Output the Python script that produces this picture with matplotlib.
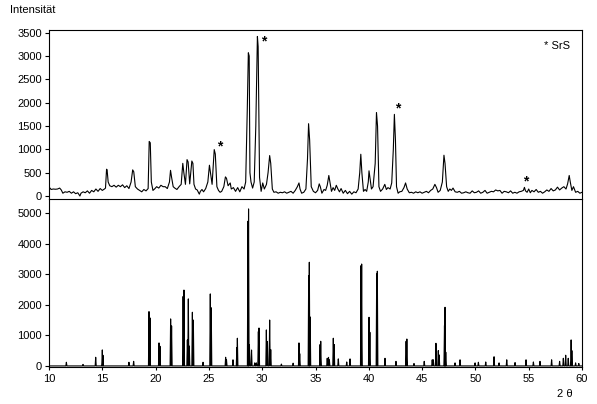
import matplotlib
matplotlib.use("Agg")
import matplotlib.pyplot as plt

plt.rcParams['font.family'] = ['Liberation Sans', 'DejaVu Sans']
plt.rcParams['font.size'] = 8

# gemessenes Diffraktogramm (oben): 2theta / Intensitaet
theta_mess = [
    10.0, 10.1, 10.2, 10.4, 10.6, 10.8, 11.0, 11.15, 11.3, 11.5, 11.7, 11.9, 12.1, 12.3, 12.5, 12.7,
    12.9, 13.0, 13.2, 13.4, 13.6, 13.8, 14.0, 14.2, 14.4, 14.6, 14.8, 15.0, 15.2, 15.3, 15.4, 15.45,
    15.55, 15.7, 15.9, 16.1, 16.3, 16.5, 16.7, 16.9, 17.1, 17.3, 17.5, 17.7, 17.85, 17.95, 18.1, 18.3,
    18.5, 18.7, 18.9, 19.1, 19.3, 19.4, 19.5, 19.6, 19.75, 19.9, 20.1, 20.3, 20.5, 20.7, 20.9, 21.1,
    21.3, 21.4, 21.5, 21.65, 21.8, 22.0, 22.2, 22.4, 22.55, 22.65, 22.8, 22.95, 23.05, 23.2, 23.4, 23.5,
    23.6, 23.75, 23.9, 24.1, 24.2, 24.35, 24.5, 24.7, 24.9, 25.05, 25.15, 25.3, 25.5, 25.6, 25.75, 25.9,
    26.05, 26.2, 26.4, 26.55, 26.65, 26.8, 27.0, 27.1, 27.3, 27.5, 27.7, 27.9, 28.1, 28.3, 28.45, 28.6,
    28.7, 28.78, 28.85, 28.95, 29.1, 29.25, 29.4, 29.55, 29.62, 29.75, 29.9, 30.05, 30.2, 30.4, 30.55, 30.7,
    30.8, 30.95, 31.1, 31.3, 31.5, 31.7, 31.9, 32.1, 32.3, 32.5, 32.7, 32.9, 33.1, 33.3, 33.45, 33.55,
    33.7, 33.9, 34.1, 34.25, 34.35, 34.45, 34.6, 34.8, 35.0, 35.2, 35.35, 35.45, 35.6, 35.8, 35.95, 36.1,
    36.25, 36.35, 36.5, 36.65, 36.8, 36.95, 37.1, 37.25, 37.4, 37.6, 37.8, 38.0, 38.2, 38.4, 38.6, 38.8,
    39.0, 39.15, 39.25, 39.35, 39.5, 39.65, 39.8, 39.95, 40.02, 40.1, 40.25, 40.4, 40.6, 40.72, 40.82, 40.95,
    41.1, 41.3, 41.5, 41.65, 41.8, 42.0, 42.15, 42.3, 42.4, 42.5, 42.6, 42.75, 42.9, 43.1, 43.3, 43.45,
    43.6, 43.8, 44.0, 44.2, 44.4, 44.6, 44.8, 45.0, 45.2, 45.4, 45.6, 45.8, 46.0, 46.2, 46.35, 46.5,
    46.7, 46.9, 47.05, 47.15, 47.3, 47.45, 47.6, 47.75, 47.9, 48.1, 48.3, 48.5, 48.7, 48.9, 49.1, 49.3,
    49.5, 49.7, 49.9, 50.1, 50.3, 50.5, 50.7, 50.9, 51.1, 51.3, 51.5, 51.7, 51.9, 52.1, 52.3, 52.5,
    52.7, 52.9, 53.1, 53.3, 53.5, 53.7, 53.9, 54.1, 54.3, 54.5, 54.6, 54.7, 54.85, 55.0, 55.15, 55.3,
    55.5, 55.7, 55.9, 56.1, 56.3, 56.5, 56.7, 56.9, 57.1, 57.3, 57.5, 57.7, 57.9, 58.1, 58.3, 58.5,
    58.65, 58.8, 58.9, 59.05, 59.2, 59.4, 59.6, 59.8, 60.0,
]
int_mess = [
    120, 170, 140, 150, 145, 150, 170, 130, 60, 90, 80, 100, 60, 90, 50, 70,
    0, 60, 90, 70, 110, 60, 120, 90, 150, 100, 160, 120, 150, 170, 575, 560,
    300, 220, 200, 230, 190, 230, 200, 240, 180, 220, 160, 300, 560, 520, 200, 150,
    120, 90, 140, 110, 160, 1170, 1140, 300, 120, 150, 200, 170, 230, 200, 200, 160,
    300, 550, 400, 200, 170, 140, 200, 250, 700, 500, 250, 780, 730, 260, 750, 700,
    250, 150, 130, 40, 100, 140, 90, 160, 300, 660, 500, 250, 995, 900, 200, 120,
    80, 100, 200, 410, 380, 220, 280, 150, 180, 100, 180, 90, 200, 150, 300, 1850,
    3070, 3000, 500, 300, 170, 300, 1500, 3420, 3200, 400, 100, 280, 150, 250, 500, 867,
    700, 150, 80, 90, 60, 80, 70, 90, 60, 80, 100, 60, 120, 200, 280, 150,
    60, 80, 150, 800, 1550, 1200, 200, 100, 70, 120, 260, 200, 60, 140, 120, 230,
    440, 300, 100, 180, 120, 230, 150, 90, 160, 60, 120, 50, 100, 40, 90, 70,
    150, 500, 895, 500, 100, 140, 100, 300, 540, 400, 150, 200, 700, 1790, 1500, 200,
    100, 150, 250, 140, 180, 150, 280, 1000, 1750, 1200, 200, 60, 90, 100, 180, 280,
    150, 70, 80, 60, 90, 70, 90, 60, 80, 100, 70, 120, 150, 250, 180, 80,
    120, 300, 874, 700, 200, 100, 150, 120, 170, 90, 80, 100, 60, 70, 90, 70,
    60, 110, 70, 80, 110, 60, 80, 120, 60, 80, 100, 90, 130, 110, 120, 60,
    100, 90, 70, 110, 60, 80, 60, 90, 100, 120, 185, 110, 80, 150, 70, 120,
    90, 140, 80, 100, 60, 90, 130, 100, 160, 110, 130, 190, 130, 170, 200, 150,
    260, 440, 300, 120, 200, 80, 100, 60, 80,
]

# berechnetes Referenzdiagramm (unten): Reflexlagen und Intensitaeten
theta_ref = [
    11.63, 13.19, 14.38, 15.0, 15.06, 17.5, 17.94, 19.38, 19.47, 20.32, 20.41, 21.41, 21.5,
    22.58, 22.66, 22.98, 23.07, 23.16, 23.45, 23.54, 24.45, 25.13, 25.22, 26.57, 26.65, 27.26,
    27.62, 27.67, 28.66, 28.72, 28.8, 29.0, 29.3, 29.45, 29.64, 29.7, 30.39, 30.49, 30.7, 30.8,
    31.8, 32.9, 33.45, 33.52, 34.36, 34.42, 34.5, 35.43, 35.49, 36.1, 36.22, 36.3, 36.67, 36.75,
    37.14, 37.93, 38.24, 39.27, 39.33, 40.02, 40.1, 40.74, 40.8, 41.52, 42.55, 43.5, 43.57,
    44.24, 45.2, 45.95, 46.05, 46.3, 46.52, 46.6, 47.1, 47.15, 47.22, 48.09, 48.56, 49.97,
    50.28, 50.97, 51.75, 52.22, 52.94, 53.72, 54.75, 55.44, 56.06, 57.15, 57.9, 58.25, 58.47,
    58.71, 58.98, 59.05, 59.4, 59.7,
]
int_ref = [
    120, 50, 283, 523, 350, 120, 150, 1775, 1570, 752, 643, 1536, 1307,
    2270, 2480, 850, 2190, 650, 1754, 1500, 120, 2353, 1900, 283, 200, 200,
    600, 905, 4728, 5130, 700, 520, 100, 100, 1122, 1240, 1176, 800, 1500, 533,
    60, 90, 752, 400, 2952, 3388, 1600, 700, 806, 250, 280, 200, 905, 700,
    230, 130, 230, 3278, 3330, 1590, 1100, 3007, 3094, 250, 150, 806, 880,
    80, 150, 200, 200, 740, 500, 360, 1320, 1917, 450, 100, 200, 100,
    120, 130, 300, 100, 200, 110, 200, 130, 150, 200, 150, 250, 350,
    250, 850, 500, 100, 80,
]

# SrS-Reflexe (Sternchen)
srs_theta = [26.0, 30.17, 42.7, 54.68]
srs_int = [1070, 3315, 1886, 306]

fig = plt.figure(figsize=(5.97, 4.04), dpi=100)
ax2 = fig.add_axes([49 / 597, 1 - 367 / 404, 533 / 597, 168 / 404])
ax1 = fig.add_axes([49 / 597, 1 - 199 / 404, 533 / 597, 169 / 404])
ax2.patch.set_visible(False)
ax1.patch.set_visible(False)

ax1.plot(theta_mess, int_mess, color='black', lw=0.8)
ax1.set_xlim(10, 60)
ax1.set_ylim(-64, 3558)
ax1.set_yticks(range(0, 3501, 500))
ax1.tick_params(axis='x', bottom=False, labelbottom=False)
ax1.tick_params(axis='y', length=3, width=0.8, pad=2)
for s in ax1.spines.values():
    s.set_linewidth(0.8)

for t, i in zip(srs_theta, srs_int):
    ax1.text(t, i, '*', ha='center', va='center', fontsize=10, fontweight='bold')
ax1.text(0.977, 0.905, '* SrS', transform=ax1.transAxes, ha='right', va='center')

# Strichdiagramm als schmale Dreiecke
w = 0.05
xs, ys = [10.0], [0]
for t, i in zip(theta_ref, int_ref):
    xs += [t - w, t, t + w]
    ys += [0, i, 0]
xs.append(60.0)
ys.append(0)
ax2.plot(xs, ys, color='black', lw=0.8)
ax2.set_xlim(10, 60)
ax2.set_ylim(-35, 5455)
ax2.set_yticks(range(0, 5001, 1000))
ax2.set_xticks(range(10, 61, 5))
ax2.spines['top'].set_visible(False)
ax2.tick_params(axis='y', length=3, width=0.8, pad=2)
ax2.tick_params(axis='x', length=2, width=0.8, pad=3)
for s in ax2.spines.values():
    s.set_linewidth(0.8)

fig.text(10 / 597, 1 - 10 / 404, 'Intensität', ha='left', va='center')
fig.text(573 / 597, 1 - 394 / 404, '2 θ', ha='right', va='center')

fig.savefig('out.png', dpi=100)
